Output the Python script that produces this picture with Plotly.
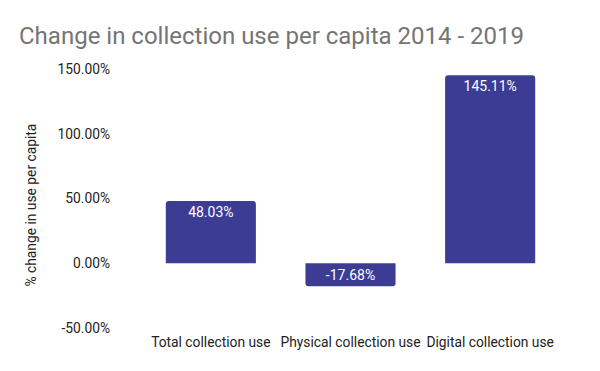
import plotly.graph_objects as go

categories = ["Total collection use", "Physical collection use", "Digital collection use"]
values = [48.03, -17.68, 145.11]
labels = ["48.03%", "-17.68%", "145.11%"]
tick_vals = [-50, 0, 50, 100, 150]
tick_text = ["-50.00%", "0.00%", "50.00%", "100.00%", "150.00%"]
y_title = "% change in use per capita"

W, H = 592, 363  # page body has an 8px default margin
L, R, T, B = 133, 40, 61, 43
PW, PH = W - L - R, H - T - B

fig = go.Figure(go.Bar(
    x=categories, y=values, text=labels,
    textposition="inside", insidetextanchor="end",
    textfont=dict(color="white", size=14, family="Roboto"),
    marker=dict(color="#3c3c94", cornerradius=3, line=dict(width=0)),
    cliponaxis=False,
))

fig.add_annotation(
    text=y_title, textangle=-90, showarrow=False,
    xref="paper", yref="paper",
    x=(22 - L) / PW, y=(H - B - 197.5) / PH,
    xanchor="center", yanchor="middle",
    font=dict(family="Roboto", size=13.8, color="#222222"),
)

fig.update_layout(
    width=W, height=H,
    margin=dict(l=L, r=R, t=T, b=B, autoexpand=False),
    paper_bgcolor="white", plot_bgcolor="white",
    font=dict(family="Roboto", color="#222222", size=13.8),
    bargap=0.355,
    showlegend=False,
    title=dict(text="Change in collection use per capita 2014 - 2019",
               font=dict(family="Roboto", size=24, color="#757575"),
               xref="container", yref="container",
               x=11 / W, xanchor="left", y=1 - 28 / H, yanchor="middle"),
    xaxis=dict(showgrid=False, zeroline=False, showline=False, ticks="",
               automargin=False, ticklabelstandoff=4,
               tickfont=dict(size=13.8, color="#222222")),
    yaxis=dict(range=[-50, 150], tickvals=tick_vals, ticktext=tick_text,
               showgrid=False, zeroline=False, showline=False, ticks="",
               automargin=False,
               ticklabelstandoff=30,
               tickfont=dict(size=13.8, color="#222222")),
    uniformtext=dict(minsize=13, mode="show"),
)

fig.write_html("out.html")
